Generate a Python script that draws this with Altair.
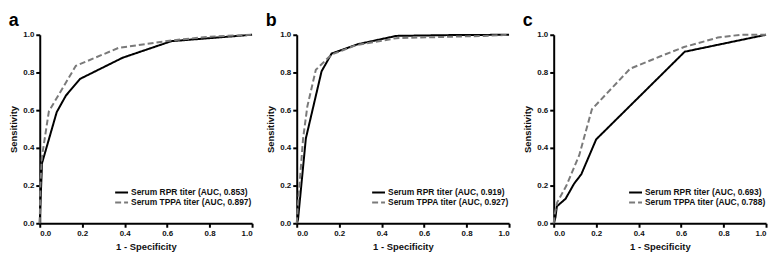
import altair as alt
import pandas as pd

# ---- data ----
panels = ["a", "b", "c"]

rpr_labels = ["Serum RPR titer (AUC, 0.853)", "Serum RPR titer (AUC, 0.919)", "Serum RPR titer (AUC, 0.693)"]
tppa_labels = ["Serum TPPA titer (AUC, 0.897)", "Serum TPPA titer (AUC, 0.927)", "Serum TPPA titer (AUC, 0.788)"]

# panel a
a_rpr_x = [0.0, 0.003, 0.011, 0.08, 0.123, 0.19, 0.39, 0.62, 0.8, 1.0]
a_rpr_y = [0.0, 0.10, 0.32, 0.59, 0.677, 0.766, 0.878, 0.966, 0.982, 1.0]
a_tppa_x = [0.0, 0.003, 0.01, 0.043, 0.17, 0.37, 0.62, 0.8, 1.0]
a_tppa_y = [0.0, 0.20, 0.35, 0.594, 0.835, 0.93, 0.97, 0.99, 1.0]

# panel b
b_rpr_x = [0.0, 0.006, 0.043, 0.117, 0.164, 0.288, 0.469, 0.7, 1.0]
b_rpr_y = [0.0, 0.02, 0.45, 0.806, 0.900, 0.95, 0.994, 0.998, 1.0]
b_tppa_x = [0.0, 0.006, 0.03, 0.05, 0.09, 0.164, 0.28, 0.469, 0.88, 1.0]
b_tppa_y = [0.0, 0.10, 0.45, 0.62, 0.814, 0.895, 0.945, 0.982, 0.994, 1.0]

# panel c
c_rpr_x = [0.0, 0.008, 0.015, 0.056, 0.096, 0.13, 0.2, 0.617, 1.0]
c_rpr_y = [0.0, 0.03, 0.09, 0.13, 0.21, 0.26, 0.445, 0.91, 1.0]
c_tppa_x = [0.0, 0.005, 0.016, 0.06, 0.12, 0.18, 0.36, 0.503, 0.614, 0.773, 0.88, 1.0]
c_tppa_y = [0.0, 0.05, 0.11, 0.20, 0.36, 0.605, 0.82, 0.886, 0.935, 0.985, 1.0, 1.0]

series = {
    "a": (a_rpr_x, a_rpr_y, a_tppa_x, a_tppa_y),
    "b": (b_rpr_x, b_rpr_y, b_tppa_x, b_tppa_y),
    "c": (c_rpr_x, c_rpr_y, c_tppa_x, c_tppa_y),
}

FONT = "Liberation Sans"
W, H = 214, 190


def panel(i, name):
    rx, ry, tx, ty = series[name]
    rl, tl = rpr_labels[i], tppa_labels[i]
    rows = [{"fpr": x, "tpr": y, "series": rl} for x, y in zip(rx, ry)]
    rows += [{"fpr": x, "tpr": y, "series": tl} for x, y in zip(tx, ty)]
    df = pd.DataFrame(rows)
    leg = dict(
        title=None,
        orient="none",
        legendX=W - 139,
        legendY=round(H * 0.81),
        symbolType="stroke",
        symbolSize=169,
        symbolStrokeWidth=2,
        clipHeight=10,
        labelFont=FONT,
        labelFontSize=8.5,
        labelFontWeight="bold",
        labelColor="#111",
        labelOffset=2,
        rowPadding=0,
        padding=0,
    )
    dom = [rl, tl]
    ticks = [0, 0.2, 0.4, 0.6, 0.8, 1.0]
    return (
        alt.Chart(df)
        .mark_line(strokeWidth=2)
        .encode(
            x=alt.X("fpr:Q", title="1 - Specificity",
                    scale=alt.Scale(domain=[0, 1], nice=False),
                    axis=alt.Axis(values=ticks, format=".1f")),
            y=alt.Y("tpr:Q", title="Sensitivity",
                    scale=alt.Scale(domain=[0, 1], nice=False),
                    axis=alt.Axis(values=ticks, format=".1f")),
            color=alt.Color("series:N", scale=alt.Scale(domain=dom, range=["#000000", "#7a7a7a"]),
                            legend=alt.Legend(**leg)),
            strokeDash=alt.StrokeDash("series:N", scale=alt.Scale(domain=dom, range=[[1, 0], [6, 3]]),
                                      legend=alt.Legend(**leg)),
            order=alt.Order("fpr:Q"),
        )
        .properties(
            width=W,
            height=H,
            title=alt.TitleParams(name, anchor="start", frame="bounds", fontSize=18,
                                  font=FONT, fontWeight="bold", offset=1, color="#000"),
        )
    )


charts = [panel(i, n) for i, n in enumerate(panels)]
chart = (
    alt.hconcat(*charts, spacing=9)
    .resolve_scale(color="independent", strokeDash="independent")
    .resolve_legend(color="independent", strokeDash="independent")
    .configure_view(stroke=None)
    .configure_axis(
        grid=False,
        domainColor="#000",
        domainWidth=2,
        tickColor="#000",
        tickWidth=2,
        tickSize=4,
        labelFont=FONT,
        labelFontSize=8,
        labelFontWeight="bold",
        labelColor="#111",
        labelPadding=2,
        titleFont=FONT,
        titleFontSize=9.5,
        titleFontWeight="bold",
        titleColor="#111",
        titlePadding=4,
    )
    .properties(padding={"top": 3, "left": 0, "right": 0, "bottom": 2})
)

chart.save("out.html", embed_options={"renderer": "svg", "actions": False})
